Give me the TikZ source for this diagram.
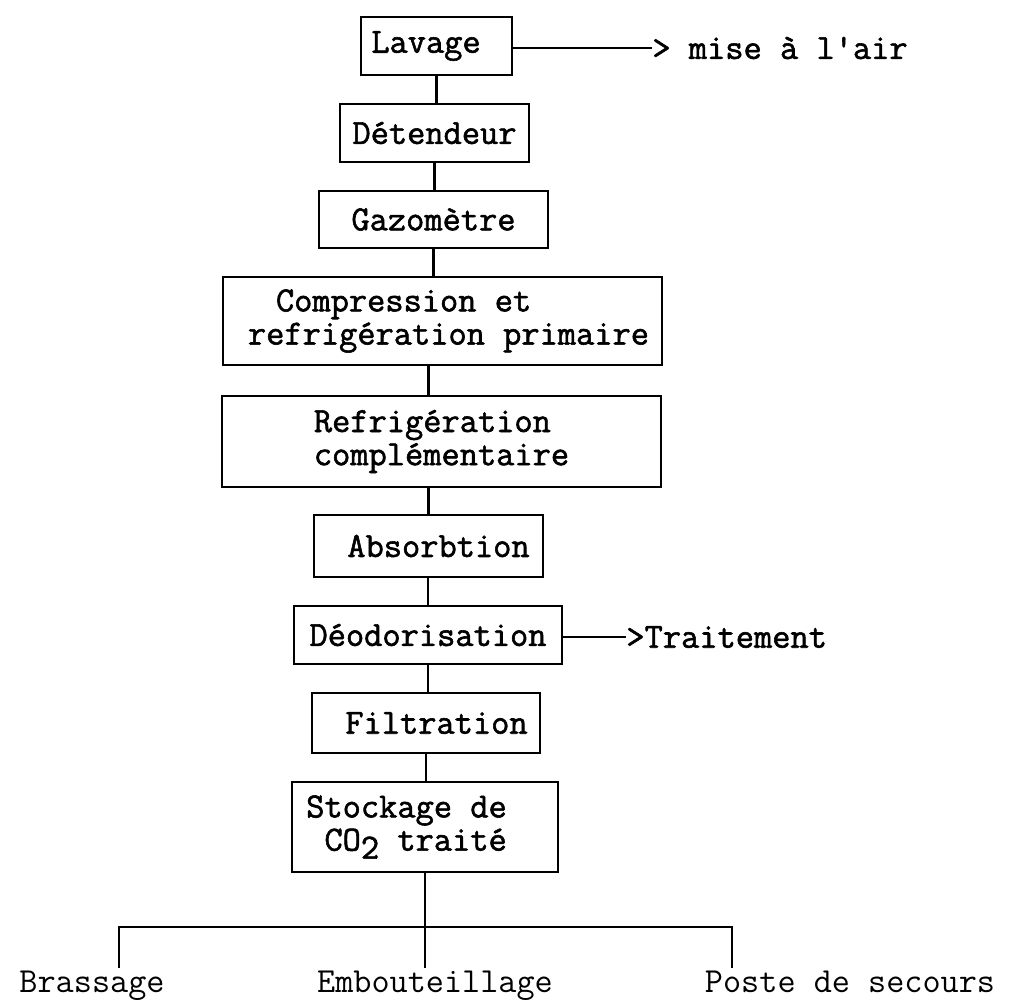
\documentclass[tikz,border=0pt]{standalone}
\usepackage{fontspec}
\setmonofont{Latin Modern Mono}[BoldFont={Latin Modern Mono}, BoldFeatures={FakeBold=1.6}]
\newlength\pxu
\setlength\pxu{0.5pt}
\newcommand\bxfont{\ttfamily\bfseries\fontsize{17.7}{16.6}\selectfont}
\newcommand\btfont{\ttfamily\fontsize{17.6}{15}\selectfont}
\begin{document}
\begin{tikzpicture}[x=0.5pt,y=-0.5pt,
  bx/.style 2 args={draw, line width=1.3pt, minimum width=#1*0.5pt, minimum height=#2*0.5pt, inner sep=0pt, font=\bxfont},
  lbl/.style={inner sep=0pt, font=\bxfont},
  blbl/.style={inner sep=0pt, font=\btfont},
  ln/.style={line width=1.3pt}]
\useasboundingbox (0,0) rectangle (1015,1001);

\node[bx={151}{58}] (lav) at (436.5,46) {Lavage\rule{21\pxu}{0pt}};
\node[bx={189}{58}] (det) at (434.5,133) {Détendeur};
\node[bx={229}{57}] (gaz) at (433.5,219.5) {Gazomètre};
\node[bx={439}{88}, align=left] (comp) at (442.5,321) {\rule{40\pxu}{0pt}Compression et\\\rule{12\pxu}{0pt}refrigération primaire};
\node[bx={439}{91}, align=left] (ref) at (441.5,441.5) {Refrigération\\complémentaire};
\node[bx={229}{62}] (abs) at (428.5,546) {\rule{20\pxu}{0pt}Absorbtion};
\node[bx={268}{58}] (deo) at (428,635) {Déodorisation};
\node[bx={228}{60}] (fil) at (426,723) {\rule{21\pxu}{0pt}Filtration};
\node[bx={266}{90}, align=right] (sto) at (425,827) {Stockage de\rule{37\pxu}{0pt}\\CO\raisebox{-4pt}{2} traité\rule{37\pxu}{0pt}};

\node[lbl, anchor=west] (air) at (652,48) {> mise à l'air};
\node[lbl, anchor=west] (trt) at (626,637) {>Traitement};

\node[blbl, anchor=base] (bra) at (92,992) {Brassage};
\node[blbl, anchor=base] (emb) at (435,992) {Embouteillage};
\node[blbl, anchor=base] (pos) at (850,992) {Poste de secours};

\coordinate (jl) at (119,927);
\coordinate (jr) at (732,927);
\coordinate (el) at (119,968);
\coordinate (ec) at (425,968);
\coordinate (er) at (732,968);

\draw[ln] (lav.south) -- (lav.south |- det.north);
\draw[ln] (det.south) -- (det.south |- gaz.north);
\draw[ln] (gaz.south) -- (gaz.south |- comp.north);
\draw[ln] (comp.south -| abs.north) -- (ref.north -| abs.north);
\draw[ln] (abs.north) -- (abs.north |- ref.south);
\draw[ln] (deo.north) -- (deo.north |- abs.south);
\draw[ln] (deo.south) -- (deo.south |- fil.north);
\draw[ln] (fil.south) -- (fil.south |- sto.north);
\draw[ln] (sto.south) -- (ec);
\draw[ln] (el) -- (jl) -- (jr) -- (er);

\draw[ln] (lav.east |- air.west) -- (air.west);
\draw[ln] (deo.east |- trt.west) -- (trt.west);
\end{tikzpicture}
\end{document}
